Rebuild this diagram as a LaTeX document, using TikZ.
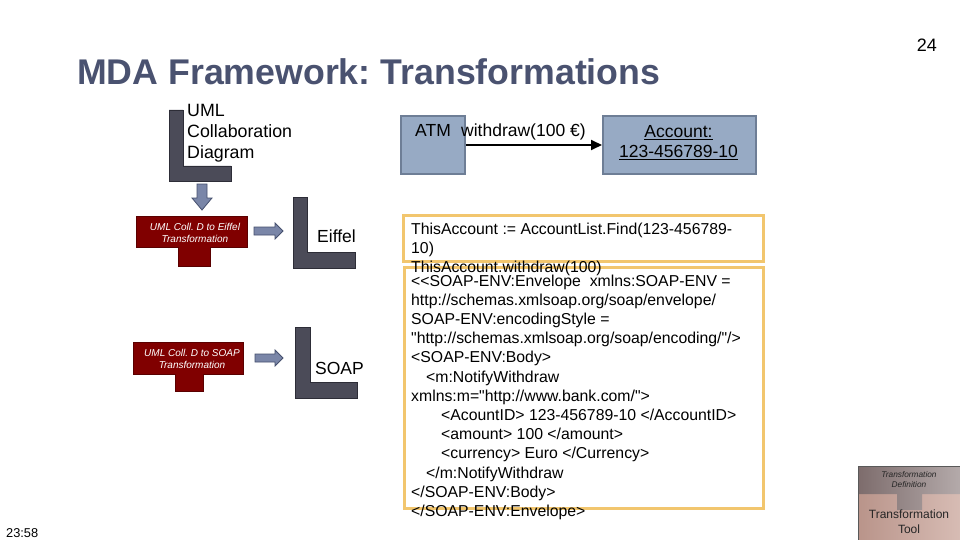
\documentclass[tikz,border=0pt]{standalone}
\usepackage{fontspec}
\newfontfamily\arial{Liberation Sans}
\usetikzlibrary{arrows.meta}
\frenchspacing
\definecolor{titleblue}{RGB}{74,82,112}
\definecolor{lgrey}{RGB}{75,75,88}
\definecolor{lgreyd}{RGB}{45,45,55}
\definecolor{darr}{RGB}{122,134,168}
\definecolor{darrd}{RGB}{70,80,110}
\definecolor{tred}{RGB}{128,0,0}
\definecolor{tredd}{RGB}{90,0,0}
\definecolor{boxblue}{RGB}{151,170,196}
\definecolor{boxblued}{RGB}{110,126,150}
\definecolor{ybord}{RGB}{242,198,110}
\definecolor{tooltopA}{RGB}{125,108,108}
\definecolor{tooltopB}{RGB}{180,170,170}
\definecolor{toolbotA}{RGB}{185,148,138}
\definecolor{toolbotB}{RGB}{215,188,180}
\tikzset{
 lshape/.style={fill=lgrey, draw=lgreyd, line width=0.8},
 blockarrow/.style={fill=darr, draw=darrd, line width=0.8},
 redT/.style={fill=tred, draw=tredd, line width=0.6},
 txt/.style={inner sep=0, anchor=base west, font=\arial\fontsize{17.8}{21}\selectfont, align=left},
 redtxt/.style={inner sep=0, anchor=base, text=white, align=center, font=\arial\itshape\fontsize{10}{12}\selectfont},
 umlbox/.style={fill=boxblue, draw=boxblued, line width=2, anchor=north west, inner sep=0},
 umltxt/.style={inner sep=0, font=\arial\fontsize{17.5}{20}\selectfont},
 ybox/.style={draw=ybord, line width=3},
 code/.style={inner sep=0, anchor=base west, align=left, font=\arial\fontsize{15.8}{19.2}\selectfont},
}
\begin{document}
\begin{tikzpicture}[x=1pt,y=-1pt]
\useasboundingbox (0,0) rectangle (960,540);
\fill[white] (0,0) rectangle (960,540);

% title and page number
\node[inner sep=0, anchor=base west, text=titleblue, font=\arial\bfseries\fontsize{35.7}{40}\selectfont] (title) at (77,85) {MDA Framework: Transformations};
\node[inner sep=0, anchor=base east, font=\arial\fontsize{18}{20}\selectfont] (pnum) at (937,52) {24};
\node[inner sep=0, anchor=base west, font=\arial\fontsize{12.8}{14}\selectfont] (time) at (6,537) {23:58};

% UML collaboration L
\draw[lshape] (169,110) -- (183,110) -- (183,166) -- (231,166) -- (231,181) -- (169,181) -- cycle;
\node[txt] (uml) at (187,159) {UML\\Collaboration\\Diagram};

% down arrow
\draw[blockarrow] (197,184) -- (207,184) -- (207,198) -- (212,198) -- (202,210) -- (192,198) -- (197,198) -- cycle;

% red transformation 1
\draw[redT] (136,216) -- (247,216) -- (247,247) -- (210,247) -- (210,266) -- (178,266) -- (178,247) -- (136,247) -- cycle;
\node[redtxt] (r1) at (195,242) {UML Coll. D to Eiffel\\Transformation};

% right arrow 1
\draw[blockarrow] (254,227) -- (275,227) -- (275,223) -- (283,231) -- (275,239) -- (275,235) -- (254,235) -- cycle;

% Eiffel L
\draw[lshape] (293,197) -- (307,197) -- (307,252) -- (355,252) -- (355,268) -- (293,268) -- cycle;
\node[txt, font=\arial\fontsize{17.5}{20}\selectfont] (eiffel) at (317,242) {Eiffel};

% red transformation 2
\draw[redT] (133,342) -- (243,342) -- (243,374) -- (203,374) -- (203,391) -- (175,391) -- (175,374) -- (133,374) -- cycle;
\node[redtxt] (r2) at (192,368) {UML Coll. D to SOAP\\Transformation};

% right arrow 2
\draw[blockarrow] (255,354) -- (275,354) -- (275,350) -- (283,358) -- (275,366) -- (275,362) -- (255,362) -- cycle;

% SOAP L
\draw[lshape] (295,327) -- (310,327) -- (310,382) -- (357,382) -- (357,398) -- (295,398) -- cycle;
\node[txt, font=\arial\fontsize{17.5}{20}\selectfont] (soap) at (315,374) {SOAP};

% collaboration diagram
\node[umlbox, minimum width=64, minimum height=58] (atm) at (400,115) {};
\node[umlbox, minimum width=153, minimum height=58] (acct) at (602,115) {};
\node[umltxt, anchor=base west] (atmt) at (415,137) {ATM};
\node[umltxt, anchor=base] (acct1) at (678.5,138) {\underline{Account:}};
\node[umltxt, anchor=base] (acct2) at (678.5,158) {\underline{123-456789-10}};
\draw[-{Triangle[length=11,width=10]}, line width=1.8] (atm.east) -- (acct.west);
\node[umltxt, anchor=base west] (msg) at (461,137) {withdraw(100 €)};

% code boxes
\draw[ybox] (403,215) rectangle (763,261);
\draw[ybox] (404,267) rectangle (763,508);
\node[code] (eiffelcode) at (411,272.4) {ThisAccount := AccountList.Find(123-456789-\\10)\\ThisAccount.withdraw(100)};
\node[code] (soapcode) at (411,516.4) {<<SOAP-ENV:Envelope\ \ xmlns:SOAP-ENV =\\
http://schemas.xmlsoap.org/soap/envelope/\\
SOAP-ENV:encodingStyle =\\
"http://schemas.xmlsoap.org/soap/encoding/"/>\\
<SOAP-ENV:Body>\\
\hspace*{15pt}<m:NotifyWithdraw\\
xmlns:m="http://www.bank.com/">\\
\hspace*{30pt}<AcountID> 123-456789-10 </AccountID>\\
\hspace*{30pt}<amount> 100 </amount>\\
\hspace*{30pt}<currency> Euro </Currency>\\
\hspace*{15pt}</m:NotifyWithdraw\\
</SOAP-ENV:Body>\\
</SOAP-ENV:Envelope>};

% transformation tool legend
\fill[toolbotA!60!toolbotB] (858,466) rectangle (960,540);
\shade[left color=toolbotA, right color=toolbotB] (858,494) rectangle (960,540);
\shade[left color=tooltopA, right color=tooltopB] (858,466) -- (960,466) -- (960,494) -- (922,494) -- (922,510) -- (897,510) -- (897,494) -- (858,494) -- cycle;
\draw[gray!70!black, line width=0.4] (858,540) -- (858,466) -- (960,466);
\node[inner sep=0, anchor=base, align=center, font=\arial\itshape\fontsize{8.3}{9.5}\selectfont, text=black!85] (tdef) at (909,487) {Transformation\\Definition};
\node[inner sep=0, anchor=base, align=center, font=\arial\fontsize{12}{15}\selectfont, text=black!85] (ttool) at (909,533) {Transformation\\Tool};
\end{tikzpicture}
\end{document}
